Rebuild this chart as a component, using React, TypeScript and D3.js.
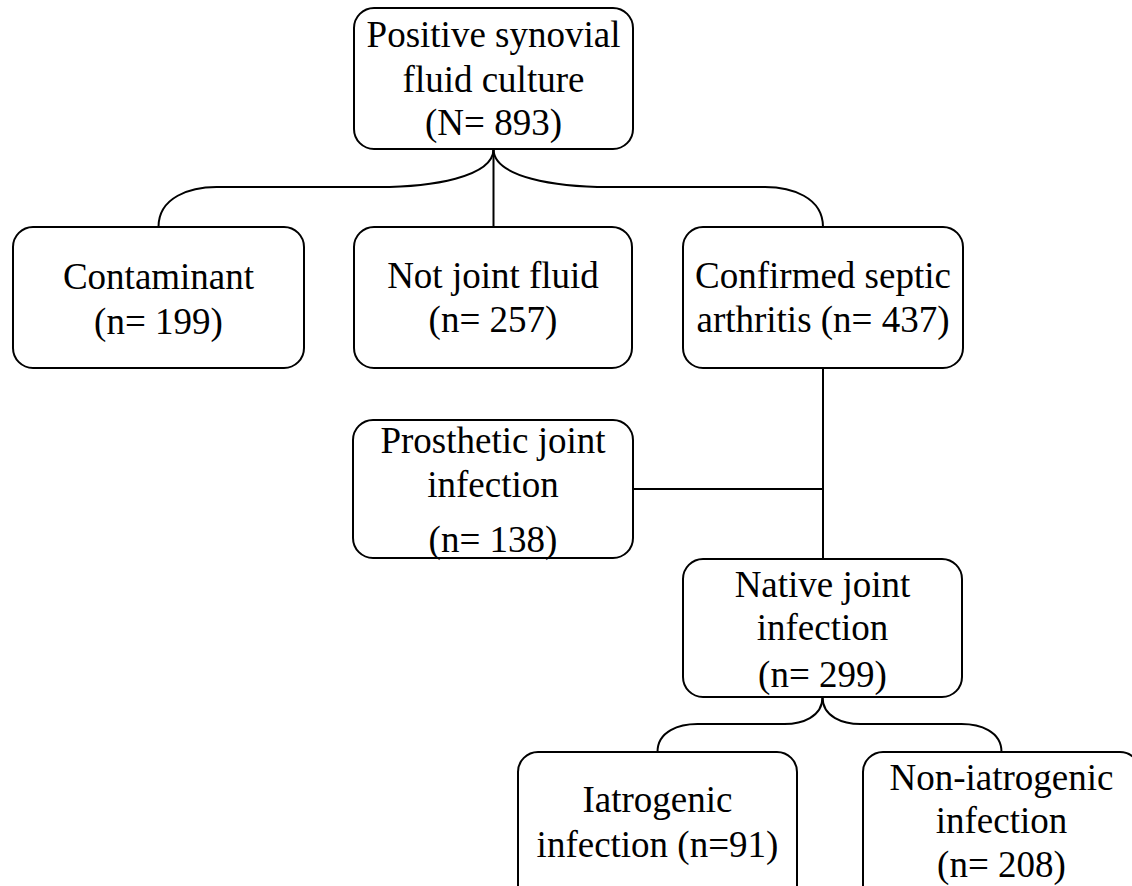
import React from "react";
import * as d3 from "d3";

// ---- data ----
const nodeIds = ["root", "contaminant", "notJoint", "confirmed", "prosthetic", "native", "iatrogenic", "nonIatrogenic"];
const nodeLabels: string[][] = [
  ["Positive synovial", "fluid culture"],
  ["Contaminant"],
  ["Not joint fluid"],
  ["Confirmed septic", "arthritis"],
  ["Prosthetic joint", "infection"],
  ["Native joint", "infection"],
  ["Iatrogenic", "infection"],
  ["Non-iatrogenic", "infection"],
];
const nodeCounts = [893, 199, 257, 437, 138, 299, 91, 208];
const countPrefixes = ["N= ", "n= ", "n= ", "n= ", "n= ", "n= ", "n=", "n= "];
const countOwnLine = [true, true, true, false, true, true, false, true];
// edges: parent -> child
const edgeParents = ["root", "root", "root", "confirmed", "confirmed", "native", "native"];
const edgeChildren = ["contaminant", "notJoint", "confirmed", "prosthetic", "native", "iatrogenic", "nonIatrogenic"];

// ---- layout (positions, not data) ----
const layout: Record<string, { x: number; y: number; w: number; h: number; lines: number[] }> = {
  root: { x: 354, y: 8, w: 279, h: 141, lines: [39, 84, 127] },
  contaminant: { x: 13, y: 227, w: 291, h: 141, lines: [62, 107] },
  notJoint: { x: 354, y: 227, w: 278, h: 141, lines: [61, 105] },
  confirmed: { x: 683, y: 227, w: 280, h: 141, lines: [61, 105] },
  prosthetic: { x: 353, y: 420, w: 280, h: 138, lines: [33, 77, 132] },
  native: { x: 683, y: 559, w: 279, h: 138, lines: [38, 81, 128] },
  iatrogenic: { x: 518, y: 752, w: 279, h: 160, lines: [60, 105] },
  nonIatrogenic: { x: 863, y: 752, w: 277, h: 160, lines: [38, 81, 125] },
};

function buildLines(i: number): string[] {
  const lab = nodeLabels[i].slice();
  const c = `(${countPrefixes[i]}${nodeCounts[i]})`;
  if (countOwnLine[i]) lab.push(c);
  else lab[lab.length - 1] = `${lab[lab.length - 1]} ${c}`;
  return lab;
}

function bracePath(sx: number, sy: number, tx: number, ty: number, my: number, a: number, b: number) {
  const dir = tx < sx ? -1 : 1;
  const p = d3.path();
  p.moveTo(sx, sy);
  p.bezierCurveTo(sx, sy + (my - sy) * 0.75, sx + dir * a * 0.55, my, sx + dir * a, my);
  p.lineTo(tx - dir * b, my);
  p.bezierCurveTo(tx - dir * b * 0.55, my, tx, my + (ty - my) * 0.25, tx, ty);
  return p.toString();
}

export default function App() {
  const W = 1132, H = 886;
  const cx = (id: string) => layout[id].x + layout[id].w / 2;
  const bottom = (id: string) => layout[id].y + layout[id].h;

  const paths: string[] = [];
  edgeParents.forEach((par, k) => {
    const ch = edgeChildren[k];
    const C = layout[ch];
    const sx = cx(par), sy = bottom(par);
    if (par === "root") {
      const tx = cx(ch), ty = C.y;
      if (Math.abs(tx - sx) < 5) {
        const p = d3.path(); p.moveTo(sx, sy); p.lineTo(sx, ty); paths.push(p.toString());
      } else {
        paths.push(bracePath(sx, sy, tx, ty, 187, 115, 58));
      }
    } else if (par === "confirmed") {
      const p = d3.path();
      if (ch === "native") { p.moveTo(sx, sy); p.lineTo(sx, C.y); }
      else { p.moveTo(C.x + C.w, C.y + 69); p.lineTo(sx, C.y + 69); }
      paths.push(p.toString());
    } else {
      const tx = cx(ch), ty = C.y;
      paths.push(bracePath(sx, sy, tx, ty, 724, 38, 40));
    }
  });

  return (
    <svg width={W} height={H} style={{ position: "absolute", left: 0, top: 0, background: "#fff" }}>
      <rect x={0} y={0} width={W} height={H} fill="#fff" />
      {paths.map((d, i) => (
        <path key={i} d={d} fill="none" stroke="#000" strokeWidth={2} />
      ))}
      {nodeIds.map((id, i) => {
        const L = layout[id];
        const lines = buildLines(i);
        return (
          <g key={id}>
            <rect x={L.x} y={L.y} width={L.w} height={L.h} rx={20} ry={20} fill="#fff" stroke="#000" strokeWidth={2} />
            {lines.map((t, j) => (
              <text key={j} x={L.x + L.w / 2} y={L.y + L.lines[j]} textAnchor="middle"
                fontFamily="'Liberation Serif', 'Times New Roman', serif" fontSize={37} fill="#000">
                {t}
              </text>
            ))}
          </g>
        );
      })}
    </svg>
  );
}
